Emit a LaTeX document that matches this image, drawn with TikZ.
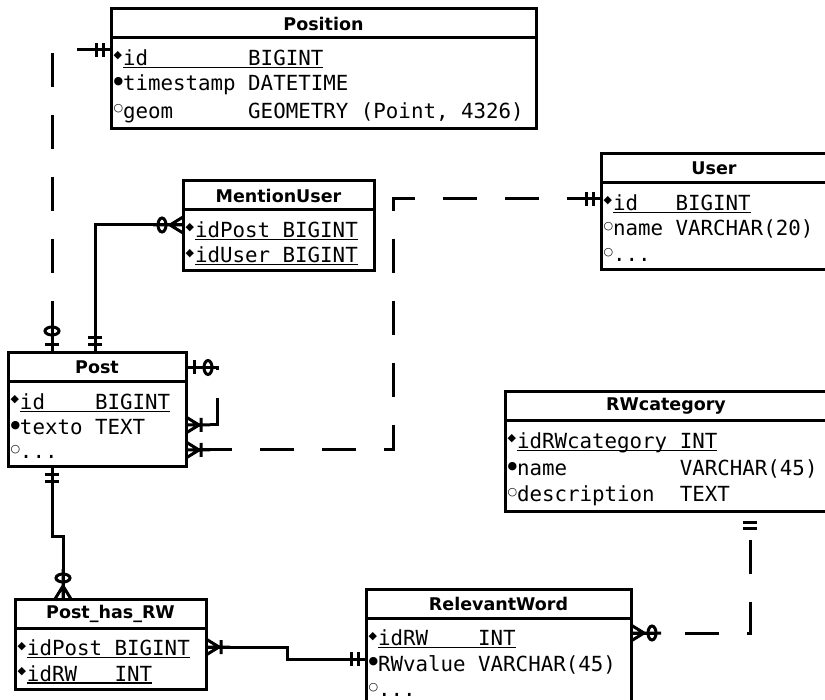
\documentclass[tikz,border=0pt]{standalone}
\usepackage{fontspec}
\setmainfont{DejaVu Sans}
\setmonofont{DejaVu Sans Mono}
\newfontfamily\symfont{DejaVu Sans}
\usepackage{tikz}
\newsavebox\keybox
\newcommand{\keyul}[1]{\sbox\keybox{#1}\rlap{\rule[-2.5pt]{\wd\keybox}{1.4pt}}\usebox\keybox}
\newcommand{\cell}[2]{\makebox[#1\fontcharwd\font`0][l]{#2}}
\newcommand{\ms}{\hphantom{0}}
\newcommand{\rowstrut}{\rule[-2pt]{0pt}{24pt}}
\newcommand{\colmark}[1]{\makebox[9pt][l]{\hspace{-0.5pt}\symfont\fontsize{11}{11}\selectfont\raisebox{6.5pt}{#1}}}
\newcommand{\pkrow}[1]{\colmark{◆}\keyul{#1}\rowstrut}
\newcommand{\nnrow}[1]{\colmark{●}#1\rowstrut}
\newcommand{\oprow}[1]{\colmark{○}#1\rowstrut}
\tikzset{
  tblhead/.style ={draw, anchor=north west, minimum width=#1, minimum height=29pt, inner sep=0pt, outer sep=0pt, line width=3pt, font=\bfseries\fontsize{17.5}{20}\selectfont},
  tblbody/.style ={draw, anchor=north west, text width=#1, align=left, inner xsep=3pt, inner ysep=5.5pt, outer sep=0pt, line width=3pt, font=\ttfamily\fontsize{20.8}{24}\selectfont},
  ident/.style   ={line width=3pt},                                   % identifying relation
  nonid/.style   ={line width=3pt, dash pattern=on 34pt off 28pt},    % non-identifying relation
  card/.style    ={line width=3pt},
  one only/.pic  ={\draw (0,0) -- (26,0) (8,-7) -- (8,7) (15,-7) -- (15,7);},
  two bars/.pic  ={\draw (11,-7) -- (11,7) (17,-7) -- (17,7);},
  zero one/.pic  ={\draw (0,0) -- (30,0) (8,-7) -- (8,7); \draw (22,0) ellipse [x radius=4, y radius=7];},
  one many/.pic  ={\draw (0,0) -- (24,0) (0,-8) -- (13,0) -- (0,8) (15,-7) -- (15,7);},
  zero many/.pic ={\draw (0,0) -- (30,0) (0,-8) -- (13,0) -- (0,8); \draw (21,0) ellipse [x radius=4, y radius=7];},
}

\begin{document}
\begin{tikzpicture}[x=1pt, y=-1pt]
  \useasboundingbox (0,0) rectangle (825,700);
  % tables
  \node[tblhead=425] (pos) at (111,9) {Position};
  \node[tblbody=419pt] (posf) at (pos.south west)
    {\pkrow{\cell{10}{id}BIGINT}\\ \nnrow{\cell{10}{timestamp}DATETIME}\\ \oprow{\cell{10}{geom}GEOMETRY\ms(Point,\ms4326)}};
  \node[tblhead=191] (mu) at (183,181) {MentionUser};
  \node[tblbody=185pt] (muf) at (mu.south west)
    {\pkrow{\cell{7}{idPost}BIGINT}\\ \pkrow{\cell{7}{idUser}BIGINT}};
  \node[tblhead=226] (user) at (601,154) {User};
  \node[tblbody=220pt] (userf) at (user.south west)
    {\pkrow{\cell{5}{id}BIGINT}\\ \oprow{\cell{5}{name}VARCHAR(20)}\\ \oprow{...}};
  \node[tblhead=178] (post) at (8,353) {Post};
  \node[tblbody=172pt] (postf) at (post.south west)
    {\pkrow{\cell{6}{id}BIGINT}\\ \nnrow{\cell{6}{texto}TEXT}\\ \oprow{...}};
  \node[tblhead=322] (rwc) at (505,392) {RWcategory};
  \node[tblbody=316pt] (rwcf) at (rwc.south west)
    {\pkrow{\cell{13}{idRWcategory}INT}\\ \nnrow{\cell{13}{name}VARCHAR(45)}\\ \oprow{\cell{13}{description}TEXT}};
  \node[tblhead=191] (phrw) at (15,599) {Post\_has\_RW};
  \node[tblbody=185pt] (phrwf) at (phrw.south west)
    {\pkrow{\cell{7}{idPost}BIGINT}\\ \pkrow{\cell{7}{idRW}INT}};
  \node[tblhead=265] (rw) at (366,589) {RelevantWord};
  \node[tblbody=259pt] (rwf) at (rw.south west)
    {\pkrow{\cell{8}{idRW}INT}\\ \nnrow{\cell{8}{RWvalue}VARCHAR(45)}\\ \oprow{...}};

  % Position -- Post
  \draw[nonid] ([yshift=-12]posf.north west) -| ([xshift=44]post.north west);
  \pic[card, rotate=180] at ([yshift=-12]posf.north west) {one only};
  \pic[card, rotate=90] at ([xshift=44]post.north west) {zero one};
  % Post -- MentionUser
  \draw[ident] ([xshift=87]post.north west) |- ([yshift=-15]muf.north west);
  \pic[card, rotate=90] at ([xshift=87]post.north west) {one only};
  \pic[card, rotate=180] at ([yshift=-15]muf.north west) {zero many};
  % User -- Post
  \draw[nonid] ([yshift=-16]userf.north west) -- ++(-208,0) |- ([yshift=-68]postf.north east);
  \pic[card, rotate=180] at ([yshift=-16]userf.north west) {one only};
  \pic[card] at ([yshift=-68]postf.north east) {one many};
  % Post -- Post
  \draw[nonid] (post.east) -- ++(31,0) |- ([yshift=-43]postf.north east);
  \pic[card] at (post.east) {zero one};
  \pic[card] at ([yshift=-43]postf.north east) {one many};
  % Post -- Post_has_RW
  \draw[ident] ([xshift=44]postf.south west) -- ++(0,70) -| ([xshift=48]phrw.north west);
  \pic[card, rotate=-90] at ([xshift=44]postf.south west) {one only};
  \pic[card, rotate=90] at ([xshift=48]phrw.north west) {zero many};
  % Post_has_RW -- RelevantWord
  \draw[ident] ([yshift=-19]phrwf.north east) -- ++(81,0) |- ([yshift=-41]rwf.north west);
  \pic[card] at ([yshift=-19]phrwf.north east) {one many};
  \pic[card, rotate=180] at ([yshift=-41]rwf.north west) {one only};
  % RWcategory -- RelevantWord (dash starts with a gap)
  \draw[nonid, dash phase=34pt] ([xshift=245]rwcf.south west) |- ([yshift=-15]rwf.north east);
  \pic[card, rotate=-90] at ([xshift=245]rwcf.south west) {two bars};
  \pic[card] at ([yshift=-15]rwf.north east) {zero many};
\end{tikzpicture}
\end{document}
